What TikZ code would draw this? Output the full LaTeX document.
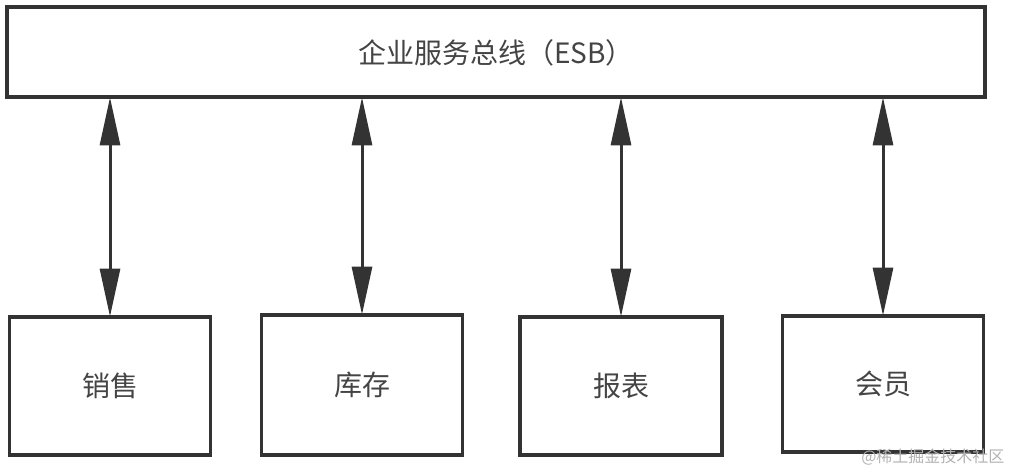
\documentclass[tikz,border=0pt]{standalone}
\usepackage{fontspec}
\setmainfont{Noto Sans CJK SC}
\usetikzlibrary{arrows.meta}
\definecolor{lineC}{HTML}{333333}
\definecolor{textC}{HTML}{444444}
\tikzset{
  box/.style={draw=lineC, line width=3.8pt, fill=white, inner sep=0pt},
  lbl/.style={text=textC, font=\fontsize{28}{28}\selectfont},
  biarrow/.style={draw=lineC, line width=3pt, {Triangle[length=48pt,width=20pt]}-{Triangle[length=48pt,width=20pt]}, shorten <=0pt, shorten >=0pt}
}
\begin{document}
\begin{tikzpicture}[x=1pt,y=-1pt]
\useasboundingbox (0,0) rectangle (1012,468);
\node[box, minimum width=978pt, minimum height=90pt] (esb) at (496,52) {};
\node[lbl] at ([yshift=-1pt]esb.center) {企业服务总线（ESB）};
\node[box, minimum width=201pt, minimum height=138pt] (xs) at (110,386) {};
\node[box, minimum width=201pt, minimum height=140pt] (kc) at (362,385) {};
\node[box, minimum width=202pt, minimum height=138pt] (bb) at (621,386) {};
\node[box, minimum width=201pt, minimum height=136pt] (hy) at (883,384) {};
\node[lbl] at (xs.center) {销售};
\node[lbl] at (kc.center) {库存};
\node[lbl] at (bb.center) {报表};
\node[lbl] at (hy.center) {会员};
\coordinate (t1) at (esb.south -| xs.north);
\coordinate (t2) at (esb.south -| kc.north);
\coordinate (t3) at (esb.south -| bb.north);
\coordinate (t4) at (esb.south -| hy.north);
\draw[biarrow] ([yshift=1.5pt]t1) -- ([yshift=-1.5pt]xs.north);
\draw[biarrow] ([yshift=1.5pt]t2) -- ([yshift=-1.5pt]kc.north);
\draw[biarrow] ([yshift=1.5pt]t3) -- ([yshift=-1.5pt]bb.north);
\draw[biarrow] ([yshift=1.5pt]t4) -- ([yshift=-1.5pt]hy.north);
\node[text=black!30, font=\fontsize{16}{16}\selectfont, anchor=east] (wm) at (1008,457) {@稀土掘金技术社区};
\end{tikzpicture}
\end{document}
